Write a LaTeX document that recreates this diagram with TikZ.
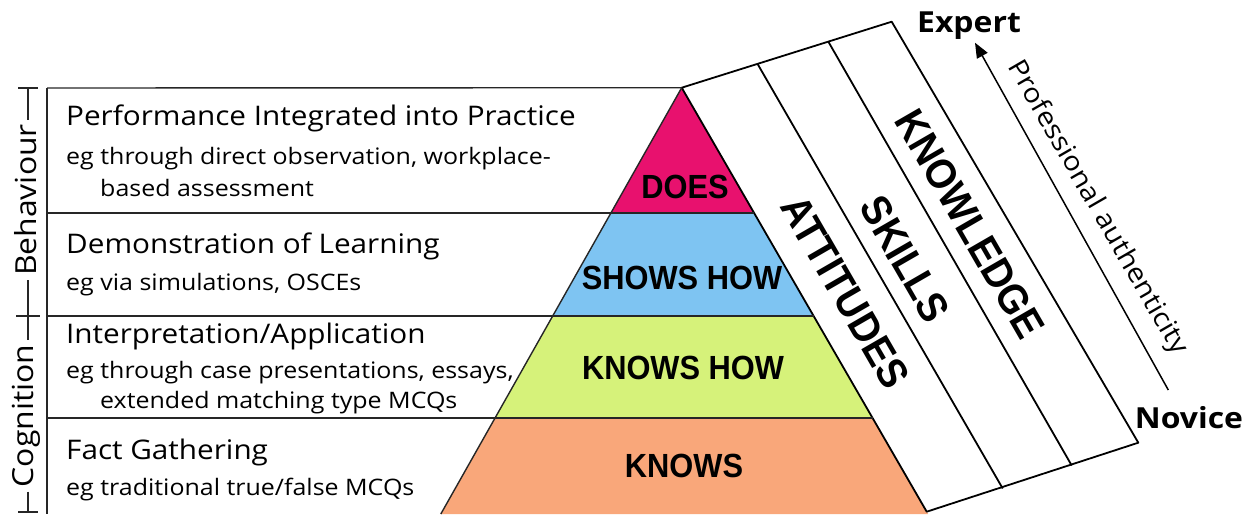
\documentclass[tikz,border=0pt]{standalone}
\usepackage{fontspec}
\setmainfont{Open Sans}
\newfontfamily\leftfont[FakeStretch=1.1]{Open Sans}
\newfontfamily\pyrfont[FakeStretch=0.92]{Liberation Sans}
\usetikzlibrary{arrows.meta}
\definecolor{doesc}{RGB}{232,17,110}
\definecolor{showc}{RGB}{126,196,242}
\definecolor{knowhc}{RGB}{214,242,122}
\definecolor{knowc}{RGB}{249,167,122}
\tikzset{
  frameline/.style={line width=1.4pt, black!85},
  bandline/.style={line width=1.8pt, black},
  headtxt/.style={anchor=base west, inner sep=0pt, font=\leftfont\fontsize{27}{30}\selectfont},
  subtxt/.style={anchor=base west, inner sep=0pt, font=\leftfont\fontsize{22.7}{26}\selectfont},
  pyrtxt/.style={inner sep=0pt, font=\pyrfont\bfseries\fontsize{33.5}{36}\selectfont},
  striptxt/.style={inner sep=0pt, rotate=-60, font=\pyrfont\bfseries\fontsize{42}{46}\selectfont},
  sidetxt/.style={inner sep=4pt, rotate=90, font=\leftfont\fontsize{29}{32}\selectfont},
  endtxt/.style={inner sep=0pt, font=\leftfont\bfseries\fontsize{29}{32}\selectfont},
}
\begin{document}
\begin{tikzpicture}[x=1pt,y=-1pt,line join=round]
\useasboundingbox (0,0) rectangle (1252,514);
% pyramid geometry
\coordinate (A) at (681.7,87.7);
\coordinate (L1) at (610.9,213);
\coordinate (L2) at (552.7,316);
\coordinate (L3) at (495.1,418);
\coordinate (L4) at (440.8,514);
\coordinate (R1) at (754.1,213);
\coordinate (R2) at (813.7,316);
\coordinate (R3) at (872.6,418);
\coordinate (R4) at (928.1,514);
% band geometry
\coordinate (T1) at (757.3,63.5);
\coordinate (T2) at (828.3,41.6);
\coordinate (T3) at (891.7,21.7);
\coordinate (B0) at (926.7,511.7);
\coordinate (B1) at (1002.7,488.5);
\coordinate (B2) at (1071.7,465.5);
\coordinate (B3) at (1138.3,442.7);
% frame corners
\coordinate (F0) at (47,88);
\coordinate (F1) at (47,213);
\coordinate (F2) at (47,316);
\coordinate (F3) at (47,418);
\coordinate (F4) at (47,514);
% tiers
\fill[doesc] (A) -- (R1) -- (L1) -- cycle;
\fill[showc] (L1) -- (R1) -- (R2) -- (L2) -- cycle;
\fill[knowhc] (L2) -- (R2) -- (R3) -- (L3) -- cycle;
\fill[knowc] (L3) -- (R3) -- (R4) -- (L4) -- cycle;
% band
\filldraw[bandline, fill=white] (A) -- (T3) -- (B3) -- (B0) -- cycle;
\draw[bandline] (T1) -- (B1);
\draw[bandline] (T2) -- (B2);
% frame lines
\draw[frameline] (F0) -- (A);
\draw[frameline] (F0) -- (F4);
\draw[frameline] (F1) -- (R1);
\draw[frameline] (F2) -- (R2);
\draw[frameline] (F3) -- (R3);
\draw[frameline] (A) -- (L4);
% left texts
\node[headtxt] (h1) at (66,125) {Performance Integrated into Practice};
\node[subtxt] (s1a) at (66,164) {eg through direct observation, workplace-};
\node[subtxt] (s1b) at (100,196) {based assessment};
\node[headtxt] (h2) at (66,253) {Demonstration of Learning};
\node[subtxt] (s2a) at (66,290) {eg via simulations, OSCEs};
\node[headtxt] (h3) at (66,343) {Interpretation/Application};
\node[subtxt] (s3a) at (66,378) {eg through case presentations, essays,};
\node[subtxt] (s3b) at (100,408) {extended matching type MCQs};
\node[headtxt] (h4) at (66,459) {Fact Gathering};
\node[subtxt] (s4a) at (66,495) {eg traditional true/false MCQs};
% pyramid labels
\node[pyrtxt] (does) at (685,187) {DOES};
\node[pyrtxt] (shows) at (682,278) {SHOWS HOW};
\node[pyrtxt] (knowshow) at (683,368) {KNOWS HOW};
\node[pyrtxt] (knows) at (684,466) {KNOWS};
% strip labels
\node[striptxt] (att) at (845,292) {ATTITUDES};
\node[striptxt] (skills) at (905,259) {SKILLS};
\node[striptxt] (knowl) at (970,224) {KNOWLEDGE};
% authenticity arrow
\coordinate (ab) at (1168.3,390);
\coordinate (at) at (975,42.7);
\draw[line width=1.5pt, -{Triangle[length=15pt,width=12pt]}] (ab) -- (at);
\node[inner sep=0pt, rotate=-60, font=\leftfont\fontsize{26.5}{30}\selectfont] (prof) at (1097,208) {Professional authenticity};
\node[endtxt] (expert) at (969,26) {Expert};
\node[endtxt] (novice) at (1189,418) {Novice};
% side bracket
\node[sidetxt] (beh) at (26,200) {Behaviour};
\node[sidetxt] (cog) at (26,416) {Cognition};
\coordinate (Q0) at (28,88);
\coordinate (Q2) at (28,512);
\draw[frameline] (18,88) -- (38,88);
\draw[frameline] (16,316) -- (40,316);
\draw[frameline] (18,512) -- (38,512);
\draw[frameline] (Q0) -- (Q0 |- beh.east);
\draw[frameline] (Q0 |- beh.west) -- (Q0 |- cog.east);
\draw[frameline] (Q0 |- cog.west) -- (Q2);
\end{tikzpicture}
\end{document}
